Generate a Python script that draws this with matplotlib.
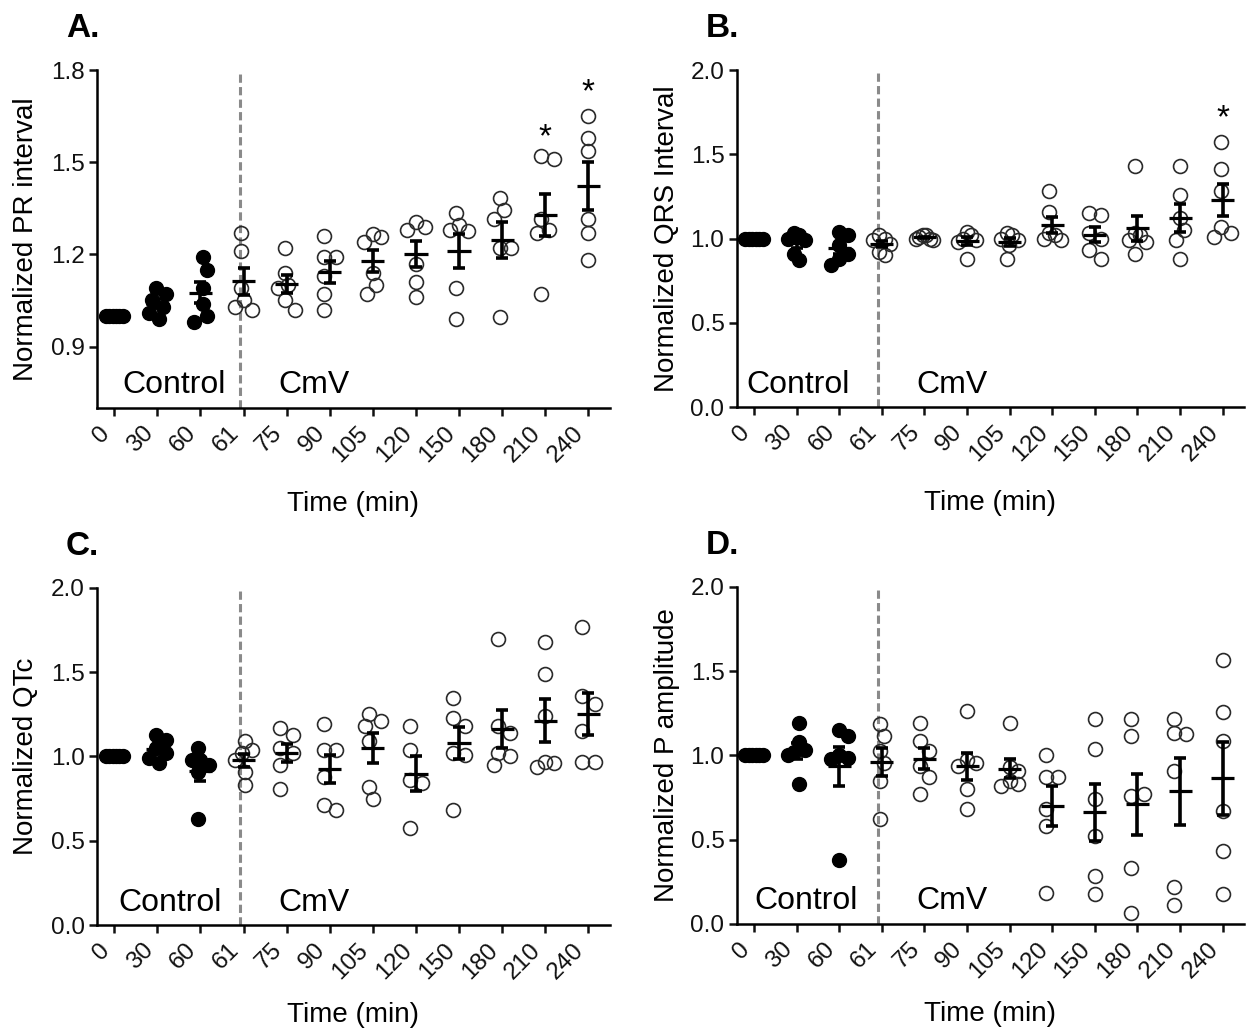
import numpy as np
import matplotlib
matplotlib.use('Agg')
import matplotlib.pyplot as plt
from matplotlib.transforms import blended_transform_factory

plt.rcParams['font.family'] = ['Liberation Sans', 'DejaVu Sans']

# time points (min); first three are control, the rest CmV
times = ['0', '30', '60', '61', '75', '90', '105', '120', '150', '180', '210', '240']
n_control = 3

# normalized values for each animal at each time point
pr_interval = [
    [1.0, 1.0, 1.0, 1.0, 1.0, 1.0],
    [1.09, 1.07, 1.05, 1.03, 1.01, 0.99],
    [1.19, 1.15, 1.09, 1.04, 1.0, 0.98],
    [1.27, 1.21, 1.09, 1.05, 1.03, 1.02],
    [1.22, 1.14, 1.10, 1.09, 1.05, 1.02],
    [1.26, 1.19, 1.19, 1.13, 1.07, 1.02],
    [1.265, 1.255, 1.24, 1.14, 1.10, 1.07],
    [1.305, 1.29, 1.28, 1.17, 1.11, 1.06],
    [1.335, 1.295, 1.28, 1.275, 1.09, 0.99],
    [1.385, 1.345, 1.315, 1.22, 1.22, 0.995],
    [1.52, 1.51, 1.315, 1.28, 1.27, 1.07],
    [1.65, 1.58, 1.535, 1.315, 1.27, 1.18],
]
qrs_interval = [
    [1.0, 1.0, 1.0, 1.0, 1.0, 1.0],
    [1.03, 1.02, 1.0, 0.99, 0.91, 0.875],
    [1.04, 1.02, 0.96, 0.91, 0.88, 0.84],
    [1.02, 1.0, 0.99, 0.97, 0.92, 0.90],
    [1.02, 1.02, 1.01, 1.0, 1.0, 0.99],
    [1.04, 1.02, 1.0, 0.99, 0.98, 0.88],
    [1.03, 1.02, 1.0, 0.99, 0.96, 0.88],
    [1.28, 1.16, 1.03, 1.02, 1.0, 0.99],
    [1.15, 1.14, 1.03, 1.0, 0.93, 0.88],
    [1.43, 1.03, 1.02, 0.99, 0.98, 0.91],
    [1.43, 1.26, 1.12, 1.05, 0.99, 0.88],
    [1.57, 1.41, 1.28, 1.07, 1.03, 1.01],
]
qtc = [
    [1.0, 1.0, 1.0, 1.0, 1.0, 1.0],
    [1.13, 1.10, 1.05, 1.02, 0.99, 0.96],
    [1.05, 0.98, 0.98, 0.95, 0.91, 0.63],
    [1.09, 1.04, 1.02, 0.98, 0.91, 0.83],
    [1.17, 1.13, 1.05, 1.02, 0.95, 0.81],
    [1.19, 1.04, 1.04, 0.88, 0.71, 0.68],
    [1.25, 1.21, 1.18, 1.09, 0.82, 0.75],
    [1.18, 1.04, 0.86, 0.84, 0.575],
    [1.35, 1.23, 1.18, 1.02, 1.01, 0.68],
    [1.70, 1.18, 1.14, 1.02, 1.0, 0.95],
    [1.68, 1.49, 1.24, 0.97, 0.96, 0.94],
    [1.77, 1.36, 1.31, 1.15, 0.965, 0.965],
]
p_amplitude = [
    [1.0, 1.0, 1.0, 1.0, 1.0, 1.0],
    [1.19, 1.08, 1.03, 1.02, 1.0, 0.83],
    [1.15, 1.115, 1.0, 0.985, 0.98, 0.38],
    [1.185, 1.115, 1.025, 0.955, 0.85, 0.625],
    [1.19, 1.085, 1.025, 0.935, 0.875, 0.77],
    [1.265, 0.975, 0.955, 0.935, 0.80, 0.685],
    [1.19, 0.93, 0.91, 0.85, 0.83, 0.82],
    [1.0, 0.87, 0.875, 0.68, 0.58, 0.185],
    [1.215, 1.04, 0.74, 0.525, 0.285, 0.175],
    [1.215, 1.115, 0.76, 0.77, 0.33, 0.065],
    [1.215, 1.135, 1.13, 0.905, 0.22, 0.115],
    [1.565, 1.255, 1.085, 0.67, 0.435, 0.175],
]

# significance stars: (time index, y)
stars_pr = [(10, 1.58), (11, 1.725)]
stars_qrs = [(11, 1.71)]

ms = 10.0         # marker size (pt)
d_px = ms * 100 / 72.0


def swarm_offsets(ax, vals):
    # simple beeswarm so points with close values sit side by side
    y0, y1 = ax.get_ylim()
    x0, x1 = ax.get_xlim()
    ppy = ax.bbox.height / (y1 - y0)
    ppx = ax.bbox.width / (x1 - x0)
    ys = np.asarray(vals) * ppy
    step = d_px * 0.3
    min_d = d_px * 0.9
    cands = [0.0]
    for k in range(1, 15):
        cands += [k * step, -k * step]
    placed = []
    for y in ys:
        pick = cands[-1]
        for c in cands:
            if all(np.hypot(c - px, y - py) >= min_d for px, py in placed):
                pick = c
                break
        placed.append((pick, y))
    xs = np.array([p[0] for p in placed])
    xs -= (xs.max() + xs.min()) / 2
    lim = 0.62 * d_px
    if np.abs(xs).max() > lim:
        xs *= lim / np.abs(xs).max()
    return xs / ppx


def panel(rect, data, ylim, yticks, ylabel, letter, ctrl_x, stars, xlab_y):
    ax = fig.add_axes(rect)
    ax.set_xlim(-0.4, 11.5)
    ax.set_ylim(*ylim)
    for s in ['top', 'right']:
        ax.spines[s].set_visible(False)
    for s in ['left', 'bottom']:
        ax.spines[s].set_linewidth(1.8)
    ax.tick_params(width=1.8, length=6, labelsize=17.5, pad=3, colors='#111111')
    ax.set_yticks(yticks)
    ax.set_yticklabels(['%.1f' % v for v in yticks])
    ax.set_xticks(range(len(times)))
    ax.set_xticklabels(times, rotation=45, ha='right')
    ax.tick_params(axis='x', pad=4)

    ax.axvline(2.92, color='#8a8a8a', lw=2.2, ls=(0, (2.7, 1.4)), zorder=1)

    for i, vals in enumerate(data):
        off = swarm_offsets(ax, vals)
        if i < n_control:
            ax.plot(i + off, vals, 'o', ms=ms, mfc='black', mec='black', mew=1.0,
                    ls='none', zorder=2)
        else:
            ax.plot(i + off, vals, 'o', ms=ms, mfc='none', mec='#2a2a2a', mew=1.2,
                    ls='none', zorder=2)
        v = np.asarray(vals)
        m = v.mean()
        sem = v.std(ddof=1) / np.sqrt(len(v))
        ax.hlines(m, i - 0.27, i + 0.27, color='black', lw=2.3, zorder=3)
        ax.errorbar(i, m, yerr=sem, fmt='none', ecolor='black', elinewidth=2.6,
                    capsize=4.3, capthick=2.6, zorder=3)

    for i, y in stars:
        ax.text(i, y, '*', ha='center', va='center', fontsize=24, zorder=4)

    tr = blended_transform_factory(ax.transData, ax.transAxes)
    ax.text(ctrl_x, 0.043, 'Control', transform=tr, fontsize=23, va='baseline', ha='left')
    ax.text(3.8, 0.043, 'CmV', transform=tr, fontsize=23, va='baseline', ha='left')

    ax.set_ylabel(ylabel, fontsize=20)
    ax.yaxis.set_label_coords(-0.113, 0.5)
    ax.set_xlabel('Time (min)', fontsize=20)
    ax.xaxis.set_label_coords(0.5, xlab_y)

    pos = ax.get_position()
    fig.text(pos.x0 - 31 / 1257, pos.y1 + 33 / 1031, letter, fontsize=24,
             fontweight='bold', ha='left', va='baseline')
    return ax


fig = plt.figure(figsize=(12.57, 10.31), dpi=100)

panel([0.0772, 0.6043, 0.408, 0.3278], pr_interval, (0.7, 1.8), [0.9, 1.2, 1.5, 1.8],
      'Normalized PR interval', 'A.', 0.19, stars_pr, -0.245)
panel([0.5863, 0.6052, 0.4033, 0.3269], qrs_interval, (0.0, 2.0), [0.0, 0.5, 1.0, 1.5, 2.0],
      'Normalized QRS Interval', 'B.', -0.19, stars_qrs, -0.245)
panel([0.0772, 0.1028, 0.408, 0.3269], qtc, (0.0, 2.0), [0.0, 0.5, 1.0, 1.5, 2.0],
      'Normalized QTc', 'C.', 0.09, [], -0.228)
panel([0.5863, 0.1038, 0.4033, 0.3269], p_amplitude, (0.0, 2.0), [0.0, 0.5, 1.0, 1.5, 2.0],
      'Normalized P amplitude', 'D.', 0.0, [], -0.228)

fig.savefig('out.png', dpi=100)
